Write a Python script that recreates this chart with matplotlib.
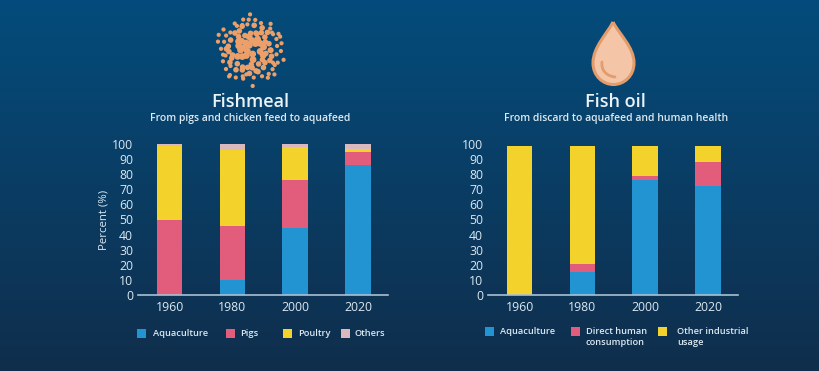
import numpy as np
import matplotlib.pyplot as plt
from matplotlib.patches import PathPatch, Rectangle, Circle
from matplotlib.path import Path

W, H = 820, 371

plt.rcParams['font.family'] = ['Open Sans', 'DejaVu Sans']

# data
years = ['1960', '1980', '2000', '2020']

meal_aqua = [0, 10, 44.7, 86.3]
meal_pigs = [50, 35.6, 31.6, 8.7]
meal_poultry = [49, 50.4, 21.5, 1.5]
meal_others = [1, 4, 2.2, 3.5]

oil_aqua = [0, 15.5, 76, 72.5]
oil_direct = [0, 4.9, 3, 15.5]
oil_other = [98.5, 78.1, 19.5, 10.5]

BLUE = '#2394d2'
PINK = '#e25c7c'
YELLOW = '#f3d22b'
GREY = '#d9b9bd'
TEXT = '#dbe9f2'


def ax_px(x0, x1, ytop, ybot):
    return fig.add_axes([x0 / W, 1 - ybot / H, (x1 - x0) / W, (ybot - ytop) / H])


def stacked(ax, series):
    x = np.arange(len(years))
    bottom = np.zeros(len(years))
    for vals, col in series:
        ax.bar(x, vals, 0.406, bottom=bottom, color=col, linewidth=0)
        bottom = bottom + np.array(vals)
    ax.set_xlim(-0.5016, 3.479)
    ax.set_ylim(0, 100)
    ax.set_xticks(x)
    ax.set_xticklabels(years)
    ax.set_yticks(range(0, 101, 10))
    ax.patch.set_visible(False)
    for s in ['top', 'right', 'left']:
        ax.spines[s].set_visible(False)
    ax.spines['bottom'].set_color('#a9c0d2')
    ax.spines['bottom'].set_linewidth(1.2)
    ax.tick_params(axis='both', length=0, labelsize=8.8, labelcolor=TEXT)
    ax.tick_params(axis='x', pad=4.5)
    ax.tick_params(axis='y', pad=3.6)


fig = plt.figure(figsize=(W / 100, H / 100), dpi=100)

# background gradient
bg = fig.add_axes([0, 0, 1, 1], zorder=-1)
top = np.array([4, 76, 124]) / 255
bottom = np.array([16, 46, 76]) / 255
t = np.linspace(0, 1, 256)[:, None, None]
bg.imshow(top * (1 - t) + bottom * t, aspect='auto', extent=[0, W, H, 0])
bg.set_xlim(0, W)
bg.set_ylim(H, 0)
bg.axis('off')

left = ax_px(138, 388, 144, 295)
stacked(left, [(meal_aqua, BLUE), (meal_pigs, PINK), (meal_poultry, YELLOW), (meal_others, GREY)])
left.set_ylabel('Percent (%)', color=TEXT, fontsize=8.2)
left.yaxis.set_label_coords(-0.116, 0.5)

right = ax_px(488, 738, 144, 295)
stacked(right, [(oil_aqua, BLUE), (oil_direct, PINK), (oil_other, YELLOW)])

# titles
bg.text(250.5, 102, 'Fishmeal', color='#eaf3f8', fontsize=13, ha='center', va='center',
        fontweight='semibold')
bg.text(250, 118, 'From pigs and chicken feed to aquafeed', color=TEXT, fontsize=7.45,
        ha='center', va='center', fontweight='semibold')
bg.text(615.5, 102, 'Fish oil', color='#eaf3f8', fontsize=13, ha='center', va='center',
        fontweight='semibold')
bg.text(616, 118, 'From discard to aquafeed and human health', color=TEXT, fontsize=7.45,
        ha='center', va='center', fontweight='semibold')


# legends
def legend_item(x, y, col, label, xtext):
    bg.add_patch(Rectangle((x, y - 4.5), 9, 9, color=col, linewidth=0))
    bg.text(xtext, y - 4.5, label, color=TEXT, fontsize=6.7, va='top', linespacing=1.4,
            fontweight='semibold')


legend_item(137, 333, BLUE, 'Aquaculture', 153)
legend_item(226, 333, PINK, 'Pigs', 240)
legend_item(283.5, 333, YELLOW, 'Poultry', 298)
legend_item(341, 333, GREY, 'Others', 355)

legend_item(485, 331, BLUE, 'Aquaculture', 500)
legend_item(571, 331, PINK, 'Direct human\nconsumption', 586)
legend_item(658, 331, YELLOW, 'Other industrial\nusage', 677)

# fishmeal icon, loose spiral of dots
cx, cy = 250.5, 49.5
for i in range(1, 112):
    r = 3.2 * i ** 0.5 * (1 + 0.1 * np.sin(i * 1.7))
    a = i * 2.39996 + 0.35 * np.sin(i * 2.3)
    size = 3.4 if r < 15 else (2.8 if r < 25 else 2.1)
    bg.add_patch(Circle((cx + r * np.cos(a), cy + r * np.sin(a)), size,
                        color='#ec9f68', linewidth=0))

# fish oil icon
verts = [(613, 22), (607, 34), (593, 47), (593, 63),
         (593, 76), (603, 84.5), (613.5, 84.5),
         (624, 84.5), (634, 76), (634, 63),
         (634, 47), (619, 34), (613, 22)]
codes = [Path.MOVETO] + [Path.CURVE4] * 12
bg.add_patch(PathPatch(Path(verts, codes), facecolor='#f5c5a8', edgecolor='#e39c6c', linewidth=2.2))
arc = Path([(602, 62), (601, 71), (607, 76), (615, 77)], [Path.MOVETO] + [Path.CURVE4] * 3)
bg.add_patch(PathPatch(arc, facecolor='none', edgecolor='#e39c6c', linewidth=2.0, capstyle='round'))

fig.savefig('out.png', dpi=100)
